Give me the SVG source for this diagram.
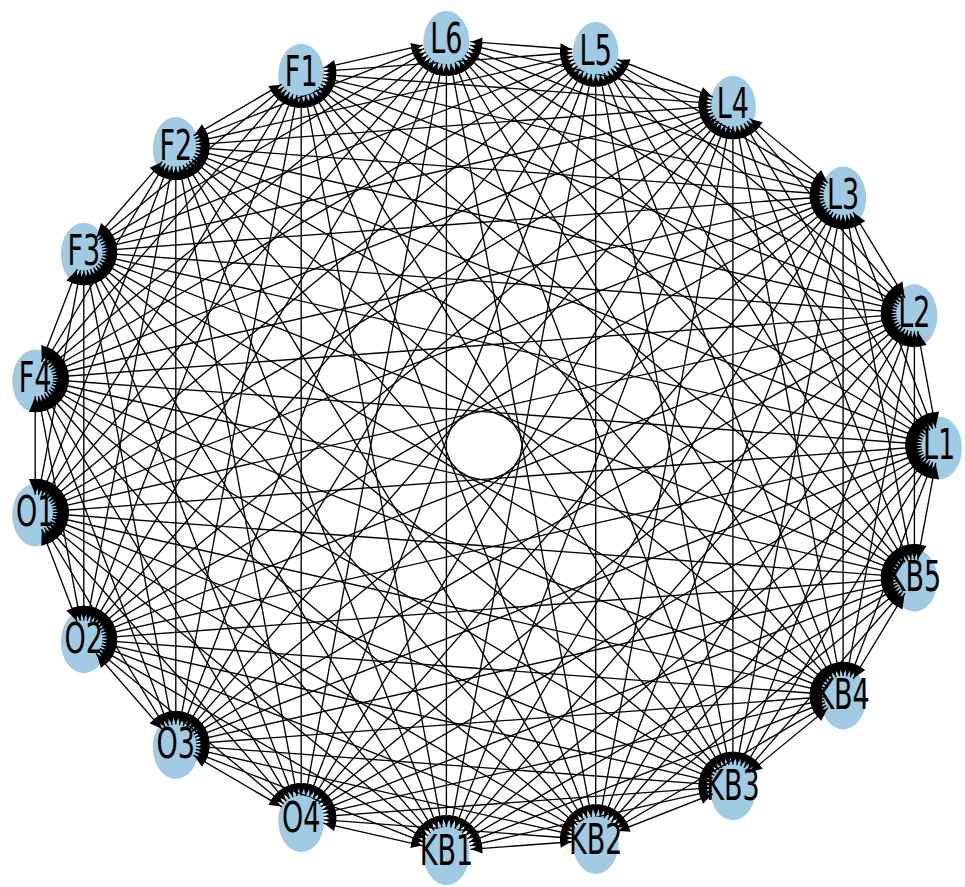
<svg xmlns="http://www.w3.org/2000/svg" width="965" height="887" viewBox="0 0 965 887">
<style>
.node ellipse{fill:#a0cbe2;stroke:none}
.node text{font-family:"DejaVu Sans","Liberation Sans",sans-serif;font-size:27px;text-anchor:middle;fill:#000}
#edges line{stroke:#000;stroke-width:1.35;fill:none}
marker path{fill:#000;stroke:none}
.s0{marker-start:url(#m0)}.e0{marker-end:url(#m0)}
.s1,.s18{marker-start:url(#m1)}.e1,.e18{marker-end:url(#m1)}
.s2,.s17{marker-start:url(#m2)}.e2,.e17{marker-end:url(#m2)}
.s3,.s16{marker-start:url(#m3)}.e3,.e16{marker-end:url(#m3)}
.s4,.s15{marker-start:url(#m4)}.e4,.e15{marker-end:url(#m4)}
.s5,.s14{marker-start:url(#m5)}.e5,.e14{marker-end:url(#m5)}
.s6,.s13{marker-start:url(#m6)}.e6,.e13{marker-end:url(#m6)}
.s7,.s12{marker-start:url(#m7)}.e7,.e12{marker-end:url(#m7)}
.s8,.s11{marker-start:url(#m8)}.e8,.e11{marker-end:url(#m8)}
.s9,.s10{marker-start:url(#m9)}.e9,.e10{marker-end:url(#m9)}
</style>
<defs>
<marker id="m0" markerUnits="userSpaceOnUse" orient="auto-start-reverse" overflow="visible" markerWidth="40" markerHeight="40" refX="0" refY="0"><path d="M-18.5,0L-33.5,6.3L-33.5,-6.3Z"/></marker>
<marker id="m1" markerUnits="userSpaceOnUse" orient="auto-start-reverse" overflow="visible" markerWidth="40" markerHeight="40" refX="0" refY="0"><path d="M-19,0L-33.3,6.2L-33.3,-6.2Z"/></marker>
<marker id="m2" markerUnits="userSpaceOnUse" orient="auto-start-reverse" overflow="visible" markerWidth="40" markerHeight="40" refX="0" refY="0"><path d="M-20.3,0L-33.2,5.8L-33.2,-5.8Z"/></marker>
<marker id="m3" markerUnits="userSpaceOnUse" orient="auto-start-reverse" overflow="visible" markerWidth="40" markerHeight="40" refX="0" refY="0"><path d="M-22.4,0L-34.2,5.4L-34.2,-5.4Z"/></marker>
<marker id="m4" markerUnits="userSpaceOnUse" orient="auto-start-reverse" overflow="visible" markerWidth="40" markerHeight="40" refX="0" refY="0"><path d="M-24.4,0L-35.5,5.1L-35.5,-5.1Z"/></marker>
<marker id="m5" markerUnits="userSpaceOnUse" orient="auto-start-reverse" overflow="visible" markerWidth="40" markerHeight="40" refX="0" refY="0"><path d="M-24.9,0L-35.9,5L-35.9,-5Z"/></marker>
<marker id="m6" markerUnits="userSpaceOnUse" orient="auto-start-reverse" overflow="visible" markerWidth="40" markerHeight="40" refX="0" refY="0"><path d="M-23.5,0L-34.9,5.2L-34.9,-5.2Z"/></marker>
<marker id="m7" markerUnits="userSpaceOnUse" orient="auto-start-reverse" overflow="visible" markerWidth="40" markerHeight="40" refX="0" refY="0"><path d="M-21.3,0L-33.6,5.6L-33.6,-5.6Z"/></marker>
<marker id="m8" markerUnits="userSpaceOnUse" orient="auto-start-reverse" overflow="visible" markerWidth="40" markerHeight="40" refX="0" refY="0"><path d="M-19.5,0L-33.1,6L-33.1,-6Z"/></marker>
<marker id="m9" markerUnits="userSpaceOnUse" orient="auto-start-reverse" overflow="visible" markerWidth="40" markerHeight="40" refX="0" refY="0"><path d="M-18.6,0L-33.4,6.3L-33.4,-6.3Z"/></marker>
<mask id="hole" maskUnits="userSpaceOnUse" x="0" y="0" width="965" height="887">
<rect x="0" y="0" width="965" height="887" fill="#fff"/>
<g fill="#000">
<circle cx="939" cy="445.5" r="17.7"/>
<circle cx="914.4" cy="313.3" r="18.2"/>
<circle cx="843.1" cy="195.5" r="19.5"/>
<circle cx="732.9" cy="104.8" r="21.6"/>
<circle cx="595.7" cy="51" r="23.6"/>
<circle cx="446.4" cy="39.9" r="24.1"/>
<circle cx="301.2" cy="72.8" r="22.7"/>
<circle cx="175.8" cy="146.1" r="20.5"/>
<circle cx="83.8" cy="251.8" r="18.7"/>
<circle cx="35.2" cy="378.5" r="17.8"/>
<circle cx="35.2" cy="512.5" r="17.8"/>
<circle cx="83.8" cy="639.2" r="18.7"/>
<circle cx="175.8" cy="744.9" r="20.5"/>
<circle cx="301.2" cy="818.2" r="22.7"/>
<circle cx="446.4" cy="851.1" r="24.1"/>
<circle cx="595.7" cy="840" r="23.6"/>
<circle cx="732.9" cy="786.2" r="21.6"/>
<circle cx="843.1" cy="695.5" r="19.5"/>
<circle cx="914.4" cy="577.7" r="18.2"/>
</g>
</mask>
</defs>
<rect x="0" y="0" width="965" height="887" fill="#fff"/>
<g id="nodes">
<g id="L1" class="node"><ellipse cx="939" cy="448" rx="23" ry="31.5"/><text transform="translate(939,459) scale(1,1.6)">L1</text></g>
<g id="L2" class="node"><ellipse cx="914.4" cy="315.8" rx="23" ry="31.5"/><text transform="translate(914.4,326.8) scale(1,1.6)">L2</text></g>
<g id="L3" class="node"><ellipse cx="843.1" cy="198" rx="23" ry="31.5"/><text transform="translate(843.1,209) scale(1,1.6)">L3</text></g>
<g id="L4" class="node"><ellipse cx="732.9" cy="107.3" rx="23" ry="31.5"/><text transform="translate(732.9,118.3) scale(1,1.6)">L4</text></g>
<g id="L5" class="node"><ellipse cx="595.7" cy="53.5" rx="23" ry="31.5"/><text transform="translate(595.7,64.5) scale(1,1.6)">L5</text></g>
<g id="L6" class="node"><ellipse cx="446.4" cy="42.4" rx="23" ry="31.5"/><text transform="translate(446.4,53.4) scale(1,1.6)">L6</text></g>
<g id="F1" class="node"><ellipse cx="301.2" cy="75.3" rx="23" ry="31.5"/><text transform="translate(301.2,86.3) scale(1,1.6)">F1</text></g>
<g id="F2" class="node"><ellipse cx="175.8" cy="148.6" rx="23" ry="31.5"/><text transform="translate(175.8,159.6) scale(1,1.6)">F2</text></g>
<g id="F3" class="node"><ellipse cx="83.8" cy="254.3" rx="23" ry="31.5"/><text transform="translate(83.8,265.3) scale(1,1.6)">F3</text></g>
<g id="F4" class="node"><ellipse cx="35.2" cy="381" rx="23" ry="31.5"/><text transform="translate(35.2,392) scale(1,1.6)">F4</text></g>
<g id="O1" class="node"><ellipse cx="35.2" cy="515" rx="23" ry="31.5"/><text transform="translate(35.2,526) scale(1,1.6)">O1</text></g>
<g id="O2" class="node"><ellipse cx="83.8" cy="641.7" rx="23" ry="31.5"/><text transform="translate(83.8,652.7) scale(1,1.6)">O2</text></g>
<g id="O3" class="node"><ellipse cx="175.8" cy="747.4" rx="23" ry="31.5"/><text transform="translate(175.8,758.4) scale(1,1.6)">O3</text></g>
<g id="O4" class="node"><ellipse cx="301.2" cy="820.7" rx="23" ry="31.5"/><text transform="translate(301.2,831.7) scale(1,1.6)">O4</text></g>
<g id="KB1" class="node"><ellipse cx="446.4" cy="853.6" rx="23" ry="31.5"/><text transform="translate(446.4,864.6) scale(1,1.6)">KB1</text></g>
<g id="KB2" class="node"><ellipse cx="595.7" cy="842.5" rx="23" ry="31.5"/><text transform="translate(595.7,853.5) scale(1,1.6)">KB2</text></g>
<g id="KB3" class="node"><ellipse cx="732.9" cy="788.7" rx="23" ry="31.5"/><text transform="translate(732.9,799.7) scale(1,1.6)">KB3</text></g>
<g id="KB4" class="node"><ellipse cx="843.1" cy="698" rx="23" ry="31.5"/><text transform="translate(843.1,709) scale(1,1.6)">KB4</text></g>
<g id="KB5" class="node"><ellipse cx="914.4" cy="580.2" rx="23" ry="31.5"/><text transform="translate(914.4,591.2) scale(1,1.6)">KB5</text></g>
</g>
<g id="edges" mask="url(#hole)">
<line class="s0 e1" x1="939" y1="445.5" x2="914.4" y2="313.3"/>
<line class="s0 e2" x1="939" y1="445.5" x2="843.1" y2="195.5"/>
<line class="s0 e3" x1="939" y1="445.5" x2="732.9" y2="104.8"/>
<line class="s0 e4" x1="939" y1="445.5" x2="595.7" y2="51"/>
<line class="s0 e5" x1="939" y1="445.5" x2="446.4" y2="39.9"/>
<line class="s0 e6" x1="939" y1="445.5" x2="301.2" y2="72.8"/>
<line class="s0 e7" x1="939" y1="445.5" x2="175.8" y2="146.1"/>
<line class="s0 e8" x1="939" y1="445.5" x2="83.8" y2="251.8"/>
<line class="s0 e9" x1="939" y1="445.5" x2="35.2" y2="378.5"/>
<line class="s0 e10" x1="939" y1="445.5" x2="35.2" y2="512.5"/>
<line class="s0 e11" x1="939" y1="445.5" x2="83.8" y2="639.2"/>
<line class="s0 e12" x1="939" y1="445.5" x2="175.8" y2="744.9"/>
<line class="s0 e13" x1="939" y1="445.5" x2="301.2" y2="818.2"/>
<line class="s0 e14" x1="939" y1="445.5" x2="446.4" y2="851.1"/>
<line class="s0 e15" x1="939" y1="445.5" x2="595.7" y2="840"/>
<line class="s0 e16" x1="939" y1="445.5" x2="732.9" y2="786.2"/>
<line class="s0 e17" x1="939" y1="445.5" x2="843.1" y2="695.5"/>
<line class="s0 e18" x1="939" y1="445.5" x2="914.4" y2="577.7"/>
<line class="s1 e2" x1="914.4" y1="313.3" x2="843.1" y2="195.5"/>
<line class="s1 e3" x1="914.4" y1="313.3" x2="732.9" y2="104.8"/>
<line class="s1 e4" x1="914.4" y1="313.3" x2="595.7" y2="51"/>
<line class="s1 e5" x1="914.4" y1="313.3" x2="446.4" y2="39.9"/>
<line class="s1 e6" x1="914.4" y1="313.3" x2="301.2" y2="72.8"/>
<line class="s1 e7" x1="914.4" y1="313.3" x2="175.8" y2="146.1"/>
<line class="s1 e8" x1="914.4" y1="313.3" x2="83.8" y2="251.8"/>
<line class="s1 e9" x1="914.4" y1="313.3" x2="35.2" y2="378.5"/>
<line class="s1 e10" x1="914.4" y1="313.3" x2="35.2" y2="512.5"/>
<line class="s1 e11" x1="914.4" y1="313.3" x2="83.8" y2="639.2"/>
<line class="s1 e12" x1="914.4" y1="313.3" x2="175.8" y2="744.9"/>
<line class="s1 e13" x1="914.4" y1="313.3" x2="301.2" y2="818.2"/>
<line class="s1 e14" x1="914.4" y1="313.3" x2="446.4" y2="851.1"/>
<line class="s1 e15" x1="914.4" y1="313.3" x2="595.7" y2="840"/>
<line class="s1 e16" x1="914.4" y1="313.3" x2="732.9" y2="786.2"/>
<line class="s1 e17" x1="914.4" y1="313.3" x2="843.1" y2="695.5"/>
<line class="s1 e18" x1="914.4" y1="313.3" x2="914.4" y2="577.7"/>
<line class="s2 e3" x1="843.1" y1="195.5" x2="732.9" y2="104.8"/>
<line class="s2 e4" x1="843.1" y1="195.5" x2="595.7" y2="51"/>
<line class="s2 e5" x1="843.1" y1="195.5" x2="446.4" y2="39.9"/>
<line class="s2 e6" x1="843.1" y1="195.5" x2="301.2" y2="72.8"/>
<line class="s2 e7" x1="843.1" y1="195.5" x2="175.8" y2="146.1"/>
<line class="s2 e8" x1="843.1" y1="195.5" x2="83.8" y2="251.8"/>
<line class="s2 e9" x1="843.1" y1="195.5" x2="35.2" y2="378.5"/>
<line class="s2 e10" x1="843.1" y1="195.5" x2="35.2" y2="512.5"/>
<line class="s2 e11" x1="843.1" y1="195.5" x2="83.8" y2="639.2"/>
<line class="s2 e12" x1="843.1" y1="195.5" x2="175.8" y2="744.9"/>
<line class="s2 e13" x1="843.1" y1="195.5" x2="301.2" y2="818.2"/>
<line class="s2 e14" x1="843.1" y1="195.5" x2="446.4" y2="851.1"/>
<line class="s2 e15" x1="843.1" y1="195.5" x2="595.7" y2="840"/>
<line class="s2 e16" x1="843.1" y1="195.5" x2="732.9" y2="786.2"/>
<line class="s2 e17" x1="843.1" y1="195.5" x2="843.1" y2="695.5"/>
<line class="s2 e18" x1="843.1" y1="195.5" x2="914.4" y2="577.7"/>
<line class="s3 e4" x1="732.9" y1="104.8" x2="595.7" y2="51"/>
<line class="s3 e5" x1="732.9" y1="104.8" x2="446.4" y2="39.9"/>
<line class="s3 e6" x1="732.9" y1="104.8" x2="301.2" y2="72.8"/>
<line class="s3 e7" x1="732.9" y1="104.8" x2="175.8" y2="146.1"/>
<line class="s3 e8" x1="732.9" y1="104.8" x2="83.8" y2="251.8"/>
<line class="s3 e9" x1="732.9" y1="104.8" x2="35.2" y2="378.5"/>
<line class="s3 e10" x1="732.9" y1="104.8" x2="35.2" y2="512.5"/>
<line class="s3 e11" x1="732.9" y1="104.8" x2="83.8" y2="639.2"/>
<line class="s3 e12" x1="732.9" y1="104.8" x2="175.8" y2="744.9"/>
<line class="s3 e13" x1="732.9" y1="104.8" x2="301.2" y2="818.2"/>
<line class="s3 e14" x1="732.9" y1="104.8" x2="446.4" y2="851.1"/>
<line class="s3 e15" x1="732.9" y1="104.8" x2="595.7" y2="840"/>
<line class="s3 e16" x1="732.9" y1="104.8" x2="732.9" y2="786.2"/>
<line class="s3 e17" x1="732.9" y1="104.8" x2="843.1" y2="695.5"/>
<line class="s3 e18" x1="732.9" y1="104.8" x2="914.4" y2="577.7"/>
<line class="s4 e5" x1="595.7" y1="51" x2="446.4" y2="39.9"/>
<line class="s4 e6" x1="595.7" y1="51" x2="301.2" y2="72.8"/>
<line class="s4 e7" x1="595.7" y1="51" x2="175.8" y2="146.1"/>
<line class="s4 e8" x1="595.7" y1="51" x2="83.8" y2="251.8"/>
<line class="s4 e9" x1="595.7" y1="51" x2="35.2" y2="378.5"/>
<line class="s4 e10" x1="595.7" y1="51" x2="35.2" y2="512.5"/>
<line class="s4 e11" x1="595.7" y1="51" x2="83.8" y2="639.2"/>
<line class="s4 e12" x1="595.7" y1="51" x2="175.8" y2="744.9"/>
<line class="s4 e13" x1="595.7" y1="51" x2="301.2" y2="818.2"/>
<line class="s4 e14" x1="595.7" y1="51" x2="446.4" y2="851.1"/>
<line class="s4 e15" x1="595.7" y1="51" x2="595.7" y2="840"/>
<line class="s4 e16" x1="595.7" y1="51" x2="732.9" y2="786.2"/>
<line class="s4 e17" x1="595.7" y1="51" x2="843.1" y2="695.5"/>
<line class="s4 e18" x1="595.7" y1="51" x2="914.4" y2="577.7"/>
<line class="s5 e6" x1="446.4" y1="39.9" x2="301.2" y2="72.8"/>
<line class="s5 e7" x1="446.4" y1="39.9" x2="175.8" y2="146.1"/>
<line class="s5 e8" x1="446.4" y1="39.9" x2="83.8" y2="251.8"/>
<line class="s5 e9" x1="446.4" y1="39.9" x2="35.2" y2="378.5"/>
<line class="s5 e10" x1="446.4" y1="39.9" x2="35.2" y2="512.5"/>
<line class="s5 e11" x1="446.4" y1="39.9" x2="83.8" y2="639.2"/>
<line class="s5 e12" x1="446.4" y1="39.9" x2="175.8" y2="744.9"/>
<line class="s5 e13" x1="446.4" y1="39.9" x2="301.2" y2="818.2"/>
<line class="s5 e14" x1="446.4" y1="39.9" x2="446.4" y2="851.1"/>
<line class="s5 e15" x1="446.4" y1="39.9" x2="595.7" y2="840"/>
<line class="s5 e16" x1="446.4" y1="39.9" x2="732.9" y2="786.2"/>
<line class="s5 e17" x1="446.4" y1="39.9" x2="843.1" y2="695.5"/>
<line class="s5 e18" x1="446.4" y1="39.9" x2="914.4" y2="577.7"/>
<line class="s6 e7" x1="301.2" y1="72.8" x2="175.8" y2="146.1"/>
<line class="s6 e8" x1="301.2" y1="72.8" x2="83.8" y2="251.8"/>
<line class="s6 e9" x1="301.2" y1="72.8" x2="35.2" y2="378.5"/>
<line class="s6 e10" x1="301.2" y1="72.8" x2="35.2" y2="512.5"/>
<line class="s6 e11" x1="301.2" y1="72.8" x2="83.8" y2="639.2"/>
<line class="s6 e12" x1="301.2" y1="72.8" x2="175.8" y2="744.9"/>
<line class="s6 e13" x1="301.2" y1="72.8" x2="301.2" y2="818.2"/>
<line class="s6 e14" x1="301.2" y1="72.8" x2="446.4" y2="851.1"/>
<line class="s6 e15" x1="301.2" y1="72.8" x2="595.7" y2="840"/>
<line class="s6 e16" x1="301.2" y1="72.8" x2="732.9" y2="786.2"/>
<line class="s6 e17" x1="301.2" y1="72.8" x2="843.1" y2="695.5"/>
<line class="s6 e18" x1="301.2" y1="72.8" x2="914.4" y2="577.7"/>
<line class="s7 e8" x1="175.8" y1="146.1" x2="83.8" y2="251.8"/>
<line class="s7 e9" x1="175.8" y1="146.1" x2="35.2" y2="378.5"/>
<line class="s7 e10" x1="175.8" y1="146.1" x2="35.2" y2="512.5"/>
<line class="s7 e11" x1="175.8" y1="146.1" x2="83.8" y2="639.2"/>
<line class="s7 e12" x1="175.8" y1="146.1" x2="175.8" y2="744.9"/>
<line class="s7 e13" x1="175.8" y1="146.1" x2="301.2" y2="818.2"/>
<line class="s7 e14" x1="175.8" y1="146.1" x2="446.4" y2="851.1"/>
<line class="s7 e15" x1="175.8" y1="146.1" x2="595.7" y2="840"/>
<line class="s7 e16" x1="175.8" y1="146.1" x2="732.9" y2="786.2"/>
<line class="s7 e17" x1="175.8" y1="146.1" x2="843.1" y2="695.5"/>
<line class="s7 e18" x1="175.8" y1="146.1" x2="914.4" y2="577.7"/>
<line class="s8 e9" x1="83.8" y1="251.8" x2="35.2" y2="378.5"/>
<line class="s8 e10" x1="83.8" y1="251.8" x2="35.2" y2="512.5"/>
<line class="s8 e11" x1="83.8" y1="251.8" x2="83.8" y2="639.2"/>
<line class="s8 e12" x1="83.8" y1="251.8" x2="175.8" y2="744.9"/>
<line class="s8 e13" x1="83.8" y1="251.8" x2="301.2" y2="818.2"/>
<line class="s8 e14" x1="83.8" y1="251.8" x2="446.4" y2="851.1"/>
<line class="s8 e15" x1="83.8" y1="251.8" x2="595.7" y2="840"/>
<line class="s8 e16" x1="83.8" y1="251.8" x2="732.9" y2="786.2"/>
<line class="s8 e17" x1="83.8" y1="251.8" x2="843.1" y2="695.5"/>
<line class="s8 e18" x1="83.8" y1="251.8" x2="914.4" y2="577.7"/>
<line class="s9 e10" x1="35.2" y1="378.5" x2="35.2" y2="512.5"/>
<line class="s9 e11" x1="35.2" y1="378.5" x2="83.8" y2="639.2"/>
<line class="s9 e12" x1="35.2" y1="378.5" x2="175.8" y2="744.9"/>
<line class="s9 e13" x1="35.2" y1="378.5" x2="301.2" y2="818.2"/>
<line class="s9 e14" x1="35.2" y1="378.5" x2="446.4" y2="851.1"/>
<line class="s9 e15" x1="35.2" y1="378.5" x2="595.7" y2="840"/>
<line class="s9 e16" x1="35.2" y1="378.5" x2="732.9" y2="786.2"/>
<line class="s9 e17" x1="35.2" y1="378.5" x2="843.1" y2="695.5"/>
<line class="s9 e18" x1="35.2" y1="378.5" x2="914.4" y2="577.7"/>
<line class="s10 e11" x1="35.2" y1="512.5" x2="83.8" y2="639.2"/>
<line class="s10 e12" x1="35.2" y1="512.5" x2="175.8" y2="744.9"/>
<line class="s10 e13" x1="35.2" y1="512.5" x2="301.2" y2="818.2"/>
<line class="s10 e14" x1="35.2" y1="512.5" x2="446.4" y2="851.1"/>
<line class="s10 e15" x1="35.2" y1="512.5" x2="595.7" y2="840"/>
<line class="s10 e16" x1="35.2" y1="512.5" x2="732.9" y2="786.2"/>
<line class="s10 e17" x1="35.2" y1="512.5" x2="843.1" y2="695.5"/>
<line class="s10 e18" x1="35.2" y1="512.5" x2="914.4" y2="577.7"/>
<line class="s11 e12" x1="83.8" y1="639.2" x2="175.8" y2="744.9"/>
<line class="s11 e13" x1="83.8" y1="639.2" x2="301.2" y2="818.2"/>
<line class="s11 e14" x1="83.8" y1="639.2" x2="446.4" y2="851.1"/>
<line class="s11 e15" x1="83.8" y1="639.2" x2="595.7" y2="840"/>
<line class="s11 e16" x1="83.8" y1="639.2" x2="732.9" y2="786.2"/>
<line class="s11 e17" x1="83.8" y1="639.2" x2="843.1" y2="695.5"/>
<line class="s11 e18" x1="83.8" y1="639.2" x2="914.4" y2="577.7"/>
<line class="s12 e13" x1="175.8" y1="744.9" x2="301.2" y2="818.2"/>
<line class="s12 e14" x1="175.8" y1="744.9" x2="446.4" y2="851.1"/>
<line class="s12 e15" x1="175.8" y1="744.9" x2="595.7" y2="840"/>
<line class="s12 e16" x1="175.8" y1="744.9" x2="732.9" y2="786.2"/>
<line class="s12 e17" x1="175.8" y1="744.9" x2="843.1" y2="695.5"/>
<line class="s12 e18" x1="175.8" y1="744.9" x2="914.4" y2="577.7"/>
<line class="s13 e14" x1="301.2" y1="818.2" x2="446.4" y2="851.1"/>
<line class="s13 e15" x1="301.2" y1="818.2" x2="595.7" y2="840"/>
<line class="s13 e16" x1="301.2" y1="818.2" x2="732.9" y2="786.2"/>
<line class="s13 e17" x1="301.2" y1="818.2" x2="843.1" y2="695.5"/>
<line class="s13 e18" x1="301.2" y1="818.2" x2="914.4" y2="577.7"/>
<line class="s14 e15" x1="446.4" y1="851.1" x2="595.7" y2="840"/>
<line class="s14 e16" x1="446.4" y1="851.1" x2="732.9" y2="786.2"/>
<line class="s14 e17" x1="446.4" y1="851.1" x2="843.1" y2="695.5"/>
<line class="s14 e18" x1="446.4" y1="851.1" x2="914.4" y2="577.7"/>
<line class="s15 e16" x1="595.7" y1="840" x2="732.9" y2="786.2"/>
<line class="s15 e17" x1="595.7" y1="840" x2="843.1" y2="695.5"/>
<line class="s15 e18" x1="595.7" y1="840" x2="914.4" y2="577.7"/>
<line class="s16 e17" x1="732.9" y1="786.2" x2="843.1" y2="695.5"/>
<line class="s16 e18" x1="732.9" y1="786.2" x2="914.4" y2="577.7"/>
<line class="s17 e18" x1="843.1" y1="695.5" x2="914.4" y2="577.7"/>
</g>
</svg>
